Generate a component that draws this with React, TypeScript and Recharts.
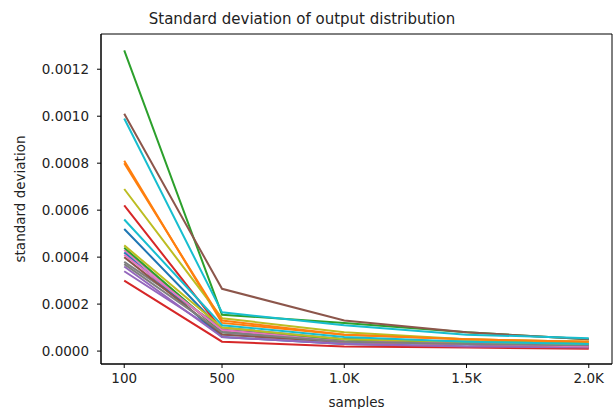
import { LineChart, Line, XAxis, YAxis, ReferenceArea } from 'recharts';

const samples = [100, 500, 1000, 1500, 2000];
const xTicks = [100, 500, 1000, 1500, 2000];
const yTicks = [0, 0.0002, 0.0004, 0.0006, 0.0008, 0.001, 0.0012];

// one array per run, values at each sample size
const std01 = [0.00052, 0.00009, 0.00005, 0.00003, 0.000025];
const std02 = [0.00081, 0.00012, 0.00007, 0.00005, 0.00004];
const std03 = [0.00128, 0.000155, 0.00012, 0.00008, 0.00005];
const std04 = [0.00062, 0.00009, 0.00004, 0.00003, 0.00002];
const std05 = [0.00034, 0.00007, 0.00004, 0.00003, 0.00002];
const std06 = [0.00101, 0.000265, 0.00013, 0.00008, 0.00005];
const std07 = [0.00043, 0.00008, 0.00005, 0.00003, 0.000025];
const std08 = [0.00038, 0.0001, 0.00005, 0.00004, 0.00003];
const std09 = [0.00069, 0.00014, 0.00008, 0.00005, 0.00004];
const std10 = [0.00099, 0.000165, 0.00011, 0.00007, 0.000055];
const std11 = [0.00042, 0.00006, 0.00003, 0.00002, 0.000015];
const std12 = [0.0008, 0.00013, 0.00007, 0.00005, 0.00004];
const std13 = [0.00044, 0.00008, 0.00005, 0.00004, 0.00003];
const std14 = [0.0003, 0.00004, 0.00002, 0.000015, 0.00001];
const std15 = [0.00036, 0.00006, 0.00003, 0.00002, 0.000015];
const std16 = [0.0004, 0.00007, 0.00004, 0.00003, 0.00002];
const std17 = [0.00041, 0.00009, 0.00004, 0.00003, 0.00002];
const std18 = [0.00037, 0.00008, 0.00004, 0.00003, 0.000025];
const std19 = [0.00045, 0.0001, 0.00005, 0.00004, 0.00003];
const std20 = [0.00056, 0.00011, 0.00006, 0.00004, 0.00003];

const runs = [std01, std02, std03, std04, std05, std06, std07, std08, std09, std10,
  std11, std12, std13, std14, std15, std16, std17, std18, std19, std20];

const palette = ['#1f77b4', '#ff7f0e', '#2ca02c', '#d62728', '#9467bd',
  '#8c564b', '#e377c2', '#7f7f7f', '#bcbd22', '#17becf'];

const data = samples.map((n, i) => {
  const row: any = { samples: n };
  runs.forEach((r, k) => { row['s' + k] = r[i]; });
  return row;
});

const fmtX = (v: number) => (v >= 1000 ? (v / 1000).toFixed(1) + 'K' : String(v));
const fmtY = (v: number) => v.toFixed(4);

const textColor = '#222';
const font = 'DejaVu Sans, sans-serif';

export default function App() {
  return (
    <div style={{ position: 'absolute', left: 0, top: 0, background: '#fff', fontFamily: font }}>
      <LineChart
        width={614}
        height={409}
        data={data}
        margin={{ top: 34, right: 2, left: 0, bottom: 0 }}
      >
        <text x={302} y={24} textAnchor="middle" fontSize={15} fill={textColor} fontFamily={font}>
          Standard deviation of output distribution
        </text>
        <XAxis
          dataKey="samples"
          type="number"
          domain={[5, 2095]}
          ticks={xTicks}
          tickFormatter={fmtX}
          allowDataOverflow
          height={45}
          tickSize={4}
          tickMargin={5}
          stroke="#000"
          tick={{ fill: textColor, fontSize: 13.5, fontFamily: font }}
          label={{ value: 'samples', position: 'insideBottom', offset: 2, fill: textColor, fontSize: 13.5, fontFamily: font }}
        />
        <YAxis
          type="number"
          domain={[-0.000055, 0.00135]}
          ticks={yTicks}
          tickFormatter={fmtY}
          allowDataOverflow
          width={101}
          tickSize={4}
          tickMargin={8}
          stroke="#000"
          tick={{ fill: textColor, fontSize: 13.5, fontFamily: font }}
          label={{ value: 'standard deviation', angle: -90, position: 'insideLeft', offset: 20, fill: textColor, fontSize: 13.5, fontFamily: font, style: { textAnchor: 'middle' } }}
        />
        <ReferenceArea
          x1={5}
          x2={2095}
          y1={-0.000055}
          y2={0.00135}
          fill="none"
          stroke="#000"
          strokeWidth={1}
          ifOverflow="visible"
        />
        {runs.map((_, k) => (
          <Line
            key={k}
            dataKey={'s' + k}
            stroke={palette[k % palette.length]}
            strokeWidth={2}
            dot={false}
            isAnimationActive={false}
            type="linear"
          />
        ))}
      </LineChart>
    </div>
  );
}
